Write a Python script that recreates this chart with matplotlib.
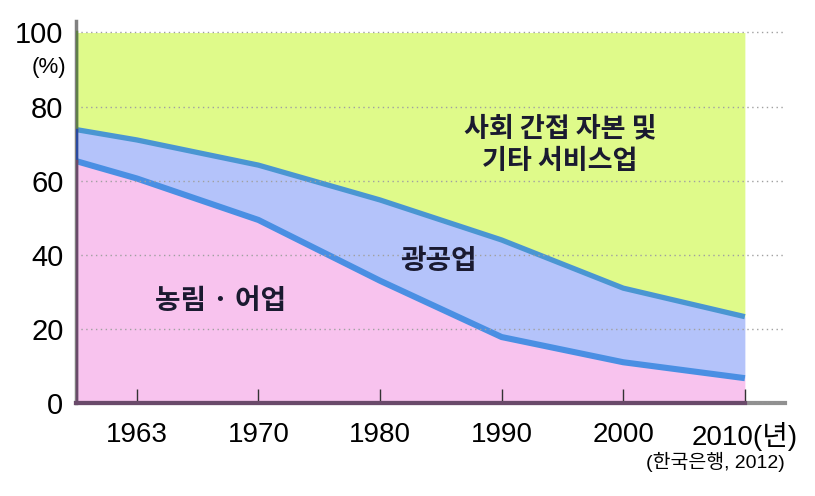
import numpy as np
import matplotlib
matplotlib.use("Agg")
import matplotlib.pyplot as plt

# share of employment by sector (%)
years = ["1963", "1970", "1980", "1990", "2000", "2010(년)"]
agri_start = 65.3          # value at the left edge of the plot
upper_start = 73.8
agri = [60.6, 49.4, 33.0, 17.8, 11.0, 6.7]
agri_mining = [71.0, 64.2, 54.8, 44.0, 31.0, 23.3]   # agri + mining/manufacturing
y_ticks = [0, 20, 40, 60, 80, 100]

num_font = ["Liberation Sans", "Noto Sans CJK KR"]
kr_font = ["Noto Sans CJK KR", "DejaVu Sans"]

x = np.concatenate([[-0.5], np.arange(len(years))])
low = np.concatenate([[agri_start], agri])
up = np.concatenate([[upper_start], agri_mining])

green = "#dffa8a"
blue = "#b4c3fa"
pink = "#f8c3ee"

fig = plt.figure(figsize=(8.15, 4.96), dpi=100)
ax = fig.add_axes([76 / 815, 1 - 403 / 496, (785 - 76) / 815, (403 - 21) / 496])

ax.fill_between(x, 0, low, color=pink, lw=0, zorder=1)
ax.fill_between(x, low, up, color=blue, lw=0, zorder=1)
ax.fill_between(x, up, 100, color=green, lw=0, zorder=1)
ax.plot(x, up, color="#4a96d2", lw=3.8, solid_capstyle="butt", zorder=2)
ax.plot(x, low, color="#4a8fe3", lw=4.4, solid_capstyle="butt", zorder=2)

# darker left edges of the bands
ax.plot([-0.5, -0.5], [up[0], 100], color="#5f7f48", lw=2.5, zorder=3)
ax.plot([-0.5, -0.5], [low[0], up[0]], color="#2a4aa0", lw=2.5, zorder=3)
ax.plot([-0.5, -0.5], [0, low[0]], color="#6a4a6a", lw=2.5, zorder=3)
ax.plot([-0.5, 5], [0, 0], color="#6a4a6a", lw=3, zorder=3, clip_on=False)

ax.set_xlim(-0.5, 5.33)
ax.set_ylim(0, 103.1)

for s in ["top", "right"]:
    ax.spines[s].set_visible(False)
ax.spines["left"].set_color("#808080")
ax.spines["left"].set_linewidth(2.5)
ax.spines["bottom"].set_color("#909090")
ax.spines["bottom"].set_linewidth(3)

ax.set_yticks(y_ticks)
ax.set_yticklabels([str(v) for v in y_ticks], family=num_font, fontsize=21)
ax.tick_params(axis="y", length=0, pad=9)
ax.set_xticks(np.arange(len(years)))
ax.set_xticklabels(years, family=num_font, fontsize=20)
ax.tick_params(axis="x", direction="in", length=10, width=1, color="#333333", pad=14)

ax.set_axisbelow(False)
ax.yaxis.grid(True, color="#a0a0a0", linestyle=(0, (1, 2.5)), lw=1)

ax.text(-0.58, 90.5, "(%)", family=num_font, fontsize=16, ha="right", va="center",
        transform=ax.transData, clip_on=False)

ax.text(0.69, 27.5, "농림 · 어업", family=kr_font, fontsize=20, fontweight="bold",
        color="#1a1a30", ha="center", va="center")
ax.text(2.48, 38.3, "광공업", family=kr_font, fontsize=20, fontweight="bold",
        color="#1a1a30", ha="center", va="center")
ax.text(3.48, 69.8, "사회 간접 자본 및\n기타 서비스업", family=kr_font, fontsize=19.5,
        fontweight="bold", color="#1a1a30", ha="center", va="center", linespacing=1.2)

fig.text(785 / 815, 1 - 462 / 496, "(한국은행, 2012)", family=num_font, fontsize=14,
         ha="right", va="center")

fig.savefig("out.png", dpi=100)
